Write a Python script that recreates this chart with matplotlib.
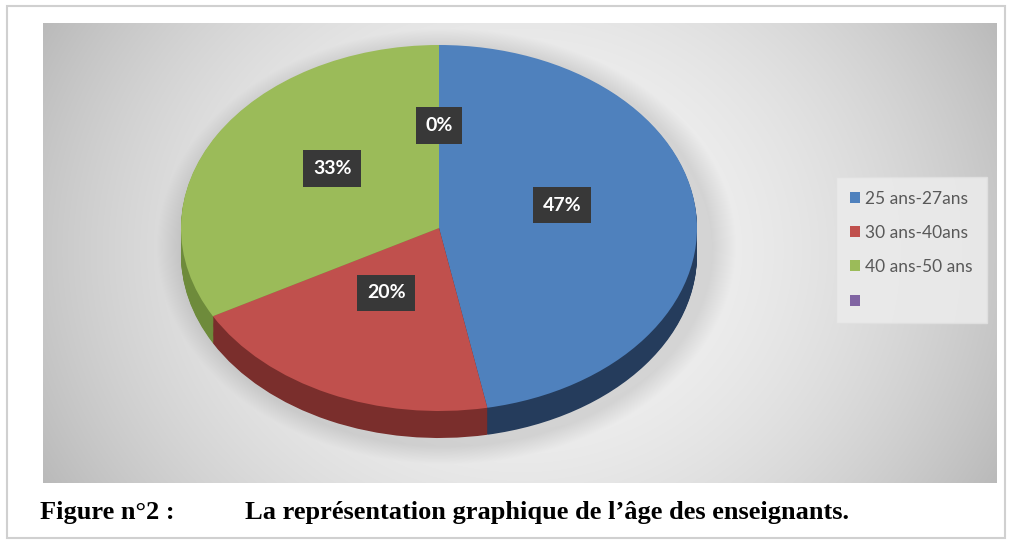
import numpy as np
import matplotlib
matplotlib.use("Agg")
import matplotlib.pyplot as plt
from matplotlib.patches import Rectangle

# data
labels = ["25 ans-27ans", "30 ans-40ans", "40 ans-50 ans", ""]
values = [47, 20, 33, 0]
top_colors = ["#4F81BD", "#C0504D", "#9BBB59", "#8064A2"]
side_colors = ["#253C5C", "#7A2E2C", "#6E8B3B", "#5A4575"]
caption_left = "Figure n°2 :"
caption_right = "La représentation graphique de l’âge des enseignants."

W, H = 1012, 542
fig = plt.figure(figsize=(W / 100, H / 100), dpi=100)


def px_axes(x0, y0, x1, y1, **kw):
    # pixel box (top-left origin) -> figure axes
    return fig.add_axes([x0 / W, 1 - y1 / H, (x1 - x0) / W, (y1 - y0) / H], **kw)


# background: page frame + gray gradient chart area
bg = px_axes(0, 0, W, H)
bg.set_xlim(0, W)
bg.set_ylim(H, 0)
bg.axis("off")
bg.add_patch(Rectangle((7, 6), 998, 532, facecolor="white", edgecolor="#d0d0d0", lw=1.5))

cx0, cy0, cx1, cy1 = 43, 23, 997, 483
xx, yy = np.meshgrid(np.arange(cx0, cx1), np.arange(cy0, cy1))
d = np.sqrt(((xx - 520) / 480.0) ** 2 + ((yy - 250) / 420.0) ** 2)
shade = 0.96 - 0.18 * d ** 2
# soft shadow under the pie
e = np.sqrt(((xx - 446) / 266.0) ** 2 + ((yy - 246) / 200.0) ** 2)
shade -= 0.10 * np.clip(1 - (e - 1) / 0.09, 0, 1)
shade = np.clip(shade, 0, 1)
bg.imshow(np.dstack([shade] * 3), extent=(cx0, cx1, cy1, cy0), aspect="auto", zorder=1)

# pie: top face ellipse centred at (439, 228), rx 258, ry 183, depth 27 px
pcx, pcy, rx, ry, depth = 439, 228, 258, 183, 27
m = 1.05
dd = depth / ry
ax = px_axes(pcx - m * rx, pcy - m * ry, pcx + m * rx, pcy + (m + dd) * ry)
ax.patch.set_visible(False)

n_layers = 30
for k in range(n_layers, 0, -1):
    ax.pie(values, colors=side_colors, startangle=90, counterclock=False,
           center=(0, -dd * k / n_layers), wedgeprops=dict(linewidth=0))

wedges, _, autotexts = ax.pie(
    values, colors=top_colors, startangle=90, counterclock=False,
    autopct=lambda p: f"{p:.0f}%", pctdistance=0.48,
    wedgeprops=dict(linewidth=0),
    textprops=dict(color="white", fontsize=14, fontweight="bold", family="Lato"))
for t in autotexts:
    x, y = t.get_position()
    t.set_position((x, y + 0.08))  # Excel lifts labels a little on the tilted pie
    t.set_bbox(dict(boxstyle="square,pad=0.5", facecolor="#383838", edgecolor="none"))

ax.set_aspect("auto")
ax.set_xlim(-m, m)
ax.set_ylim(-m - dd, m)
ax.axis("off")

leg = fig.legend(wedges, labels, loc="upper left",
                 bbox_to_anchor=(827 / W, 1 - 168 / H),
                 frameon=True, fancybox=False, handlelength=0.6, handleheight=0.6,
                 handletextpad=0.3, labelspacing=1.05, borderpad=0.8,
                 prop=dict(family="Lato", size=12.5), labelcolor="#595959")
leg.get_frame().set_facecolor("#ebebeb")
leg.get_frame().set_edgecolor("#e0e0e0")
leg.get_frame().set_alpha(0.9)

fig.text(40 / W, 1 - 513 / H, caption_left, family="Liberation Serif", fontweight="bold",
         fontsize=19, va="center", ha="left", color="black")
fig.text(245 / W, 1 - 513 / H, caption_right, family="Liberation Serif", fontweight="bold",
         fontsize=19, va="center", ha="left", color="black")

fig.savefig("out.png", dpi=100)
